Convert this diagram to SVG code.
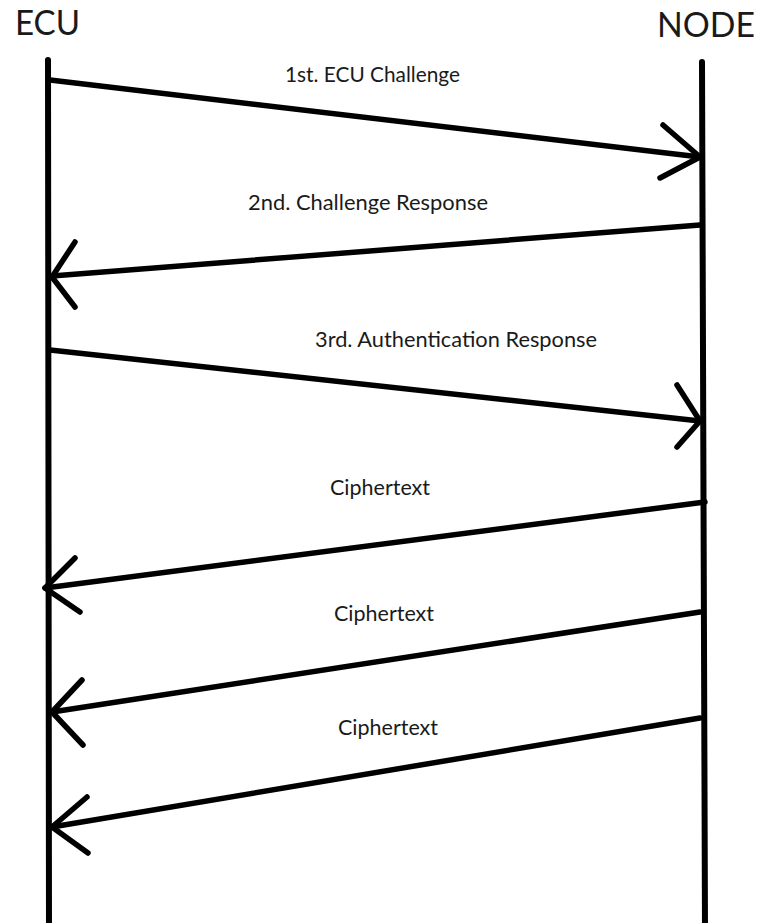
<svg xmlns="http://www.w3.org/2000/svg" width="760" height="923" viewBox="0 0 760 923">
<style>
.life{stroke:#000;stroke-width:6;stroke-linecap:round;fill:none}
.msg{stroke:#000;stroke-width:5.5;stroke-linecap:round;stroke-linejoin:round;fill:none}
.title{font-family:Lato,"Liberation Sans",sans-serif;font-size:34px;fill:#1a1a1a}
.lbl{font-family:Lato,"Liberation Sans",sans-serif;font-size:21px;fill:#1a1a1a}
</style>
<rect width="760" height="923" fill="#fff"/>
<g id="ecu">
<text class="title" x="15" y="35" textLength="65" lengthAdjust="spacingAndGlyphs">ECU</text>
<line class="life" x1="48" y1="60" x2="49" y2="930"/>
</g>
<g id="node">
<text class="title" x="657" y="37" textLength="98" lengthAdjust="spacingAndGlyphs">NODE</text>
<line class="life" x1="702" y1="62" x2="705" y2="930"/>
</g>
<g id="connectors">
<g id="m1">
<path class="msg" d="M50,80 L700,157"/>
<path class="msg" d="M663,125 L700,157 L660,178"/>
<text class="lbl" x="285" y="82" textLength="175" lengthAdjust="spacingAndGlyphs">1st. ECU Challenge</text>
</g>
<g id="m2">
<path class="msg" d="M700,225 L52,276"/>
<path class="msg" d="M75,242 L52,277 L75,307"/>
<text class="lbl" x="248" y="210" textLength="240" lengthAdjust="spacingAndGlyphs">2nd. Challenge Response</text>
</g>
<g id="m3">
<path class="msg" d="M50,350 L700,421"/>
<path class="msg" d="M677,385 L700,421 L677,447"/>
<text class="lbl" x="315" y="347" textLength="282" lengthAdjust="spacingAndGlyphs">3rd. Authentication Response</text>
</g>
<g id="m4">
<path class="msg" d="M705,502 L45,588"/>
<path class="msg" d="M75,558 L45,588 L80,612"/>
<text class="lbl" x="330" y="495" textLength="100" lengthAdjust="spacingAndGlyphs">Ciphertext</text>
</g>
<g id="m5">
<path class="msg" d="M700,612 L52,712"/>
<path class="msg" d="M82,680 L52,712 L83,745"/>
<text class="lbl" x="334" y="621" textLength="100" lengthAdjust="spacingAndGlyphs">Ciphertext</text>
</g>
<g id="m6">
<path class="msg" d="M700,718 L52,827"/>
<path class="msg" d="M87,797 L52,827 L88,853"/>
<text class="lbl" x="338" y="735" textLength="100" lengthAdjust="spacingAndGlyphs">Ciphertext</text>
</g>
</g>
</svg>
